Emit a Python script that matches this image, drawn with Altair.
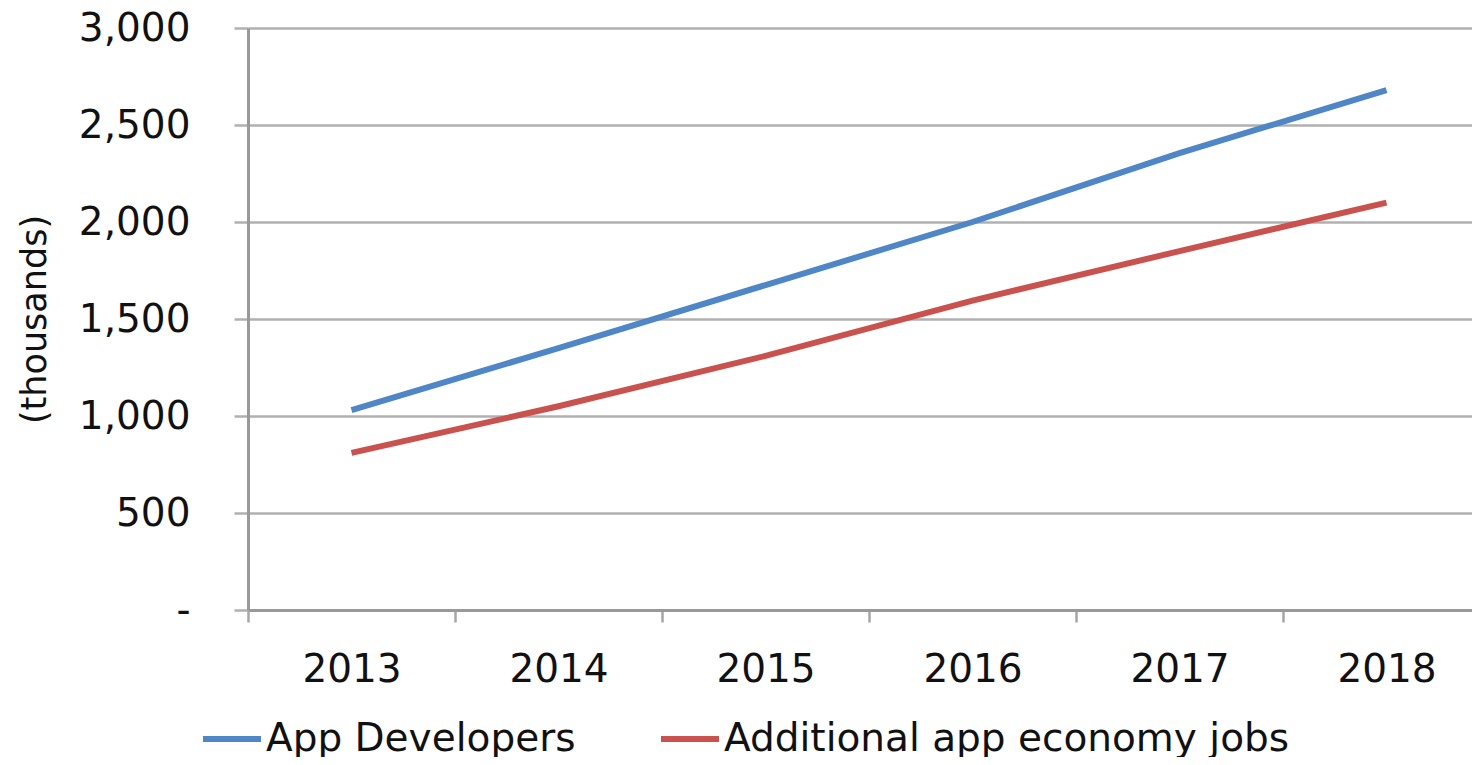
import altair as alt
import pandas as pd

years = [2013, 2014, 2015, 2016, 2017, 2018]
app_developers = [1030, 1350, 1675, 2000, 2355, 2680]
additional_jobs = [810, 1050, 1310, 1595, 1850, 2100]
series_names = ["App Developers", "Additional app economy jobs"]
series_colors = ["#4F86C6", "#C9524E"]
y_ticks = [0, 500, 1000, 1500, 2000, 2500, 3000]
x_boundaries = [2012.5, 2013.5, 2014.5, 2015.5, 2016.5, 2017.5]

rows = []
for y, v in zip(years, app_developers):
    rows.append({"year": y, "value": v, "series": series_names[0]})
for y, v in zip(years, additional_jobs):
    rows.append({"year": y, "value": v, "series": series_names[1]})
df = pd.DataFrame(rows)

FONT = "DejaVu Sans"
PLOT_W = 1224
PLOT_H = 582
BAND = 207

chart = alt.Chart(df).mark_line(strokeWidth=6, strokeCap="butt").encode(
    x=alt.X(
        "year:Q",
        scale=alt.Scale(domain=[2012.5, 2012.5 + PLOT_W / BAND], nice=False, zero=False),
        axis=alt.Axis(
            values=x_boundaries,
            labelExpr="format(datum.value + 0.5, 'd')",
            labelOffset=BAND / 2,
            labelOverlap=False,
            labelBound=False,
            labelFlush=False,
            grid=False,
            title=None,
            tickSize=12,
            tickWidth=2.5,
            tickColor="#a6a6a6",
            domainColor="#999999",
            domainWidth=3,
            labelFont=FONT,
            labelFontSize=39,
            labelColor="#111111",
            labelPadding=28,
        ),
    ),
    y=alt.Y(
        "value:Q",
        scale=alt.Scale(domain=[0, 3000], nice=False),
        axis=alt.Axis(
            values=y_ticks,
            labelExpr="datum.value == 0 ? '-' : format(datum.value, ',')",
            title="(thousands)",
            titleFont=FONT,
            titleFontSize=35,
            titleFontWeight="normal",
            titleColor="#111111",
            titleAngle=270,
            titleX=-214,
            titleY=PLOT_H / 2,
            titleAlign="center",
            titleBaseline="middle",
            grid=True,
            gridColor="#b0b0b0",
            gridWidth=2.5,
            tickSize=14,
            tickWidth=2.5,
            tickColor="#b0b0b0",
            domainColor="#999999",
            domainWidth=3,
            labelFont=FONT,
            labelFontSize=39,
            labelColor="#111111",
            labelPadding=44,
            labelBaseline="middle",
        ),
    ),
    color=alt.Color(
        "series:N",
        scale=alt.Scale(domain=series_names, range=series_colors),
        legend=alt.Legend(
            title=None,
            orient="none",
            direction="horizontal",
            legendX=-48,
            legendY=679,
            symbolType="stroke",
            symbolSize=3364,
            symbolStrokeWidth=6,
            labelFont=FONT,
            labelFontSize=39,
            labelColor="#111111",
            labelOffset=2,
            columnPadding=73,
            labelLimit=800,
        ),
    ),
).properties(
    width=PLOT_W,
    height=PLOT_H,
    autosize=alt.AutoSizeParams(type="none"),
    padding={"left": 240, "top": 20, "right": 0, "bottom": 147},
).configure_view(stroke=None).configure(background="white")

chart.save("out.html", embed_options={"renderer": "svg", "actions": False})
